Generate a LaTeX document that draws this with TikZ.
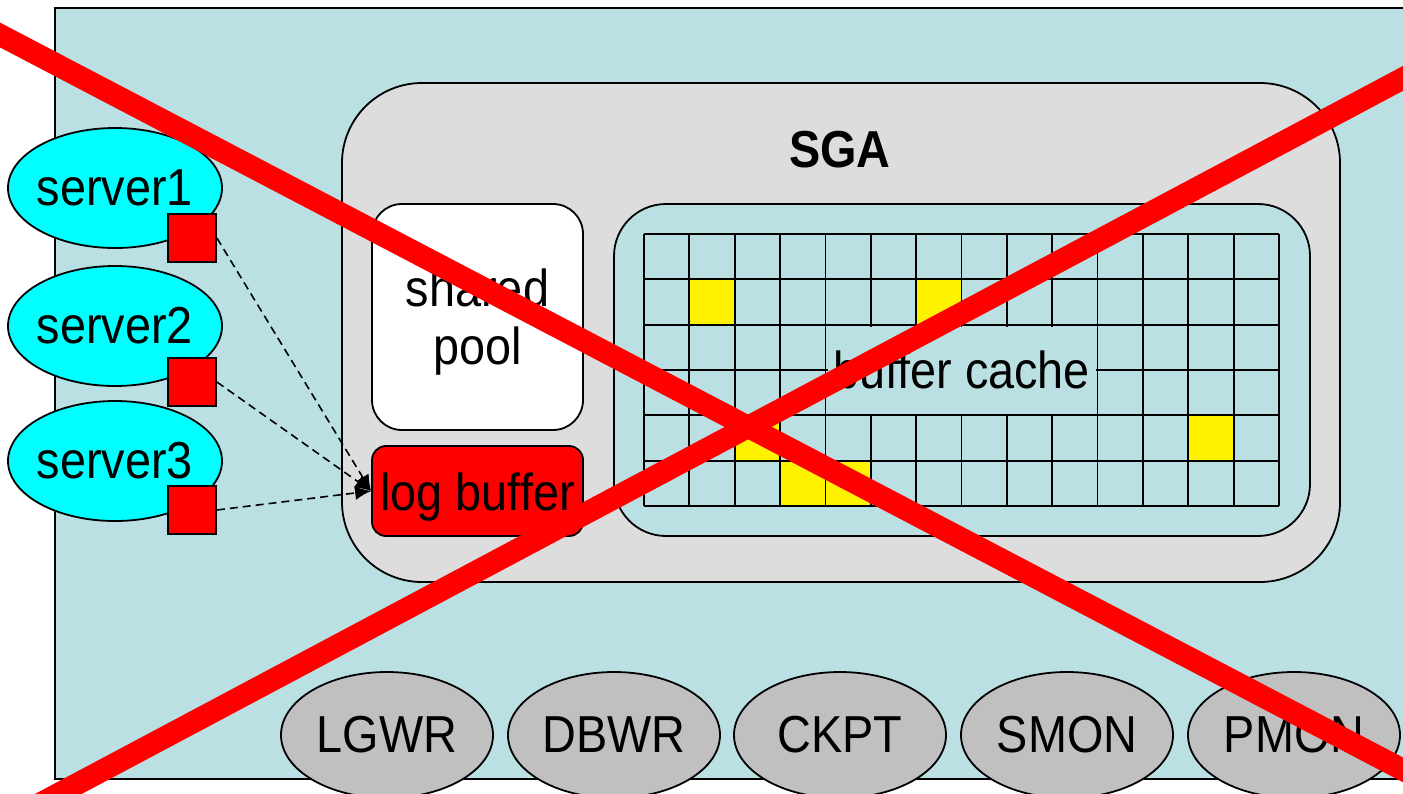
\documentclass[tikz,border=0pt]{standalone}
\usepackage{fontspec}
\setmainfont{Liberation Sans}[FakeStretch=0.9]
\usetikzlibrary{shapes.geometric,arrows.meta}
\definecolor{bgblue}{RGB}{186,224,227}
\definecolor{sgagray}{RGB}{221,221,221}
\definecolor{procgray}{RGB}{192,192,192}
\definecolor{srvcyan}{RGB}{0,255,255}
\begin{document}
\begin{tikzpicture}[x=1pt,y=-1pt, line width=1.8pt,
  every node/.style={inner sep=0pt, font=\fontsize{52}{58}\selectfont},
  lowtext/.style={text height=40pt, text depth=2pt},
  outerbox/.style={draw, fill=bgblue},
  sgabox/.style={draw, fill=sgagray, rounded corners=80pt},
  poolbox/.style={draw, fill=white, rounded corners=30pt},
  logbox/.style={draw, fill=red, rounded corners=14pt, lowtext},
  cachebox/.style={draw, fill=bgblue, rounded corners=52pt},
  server/.style={ellipse, draw, fill=srvcyan, inner xsep=-15pt, minimum width=214pt, minimum height=120pt},
  sqr/.style={draw, fill=red, minimum size=48pt},
  proc/.style={ellipse, draw, fill=procgray, inner xsep=-10pt, minimum width=212pt, minimum height=126pt},
  dasharrow/.style={dash pattern=on 8pt off 5pt, line width=1.6pt, -{Latex[length=16pt,width=14pt]}},
  cross/.style={red, line width=22pt},
]
\useasboundingbox (0,0) rectangle (1403,793);
\clip (0,0) rectangle (1403,793);
% outer instance
\node[outerbox, minimum width=1400pt, minimum height=771pt, anchor=north west] (outer) at (54,7) {};
% SGA
\node[sgabox, minimum width=998pt, minimum height=499pt] (sga) at (841,332.5) {};
\node[font=\bfseries\fontsize{52}{58}\selectfont] (sgalabel) at (840,150) {SGA};
\node[poolbox, minimum width=211pt, minimum height=226pt] (pool) at (477.5,317) {};
\node[align=center] (pooltext) at (477.5,322) {shared\\pool};
\node[logbox, minimum width=211pt, minimum height=90pt] (lb) at (477.5,491) {log buffer};
\node[cachebox, minimum width=696pt, minimum height=332pt] (cache) at (962,370) {};
% buffer cache grid
\foreach \r/\c in {1/1,1/6,4/2,4/12,5/3,5/4}
  \fill[yellow] ({644+\c*45.357},{234+\r*45.33}) rectangle ++(45.357,45.33);
\foreach \k in {0,...,14}
  \draw ({644+\k*45.357},234) -- ++(0,272);
\foreach \j in {0,...,6}
  \draw (644,{234+\j*45.33}) -- ++(635,0);
\node[fill=bgblue, minimum width=268pt, minimum height=87pt] (bclabel) at (961.7,370) {buffer cache};
% servers
\node[server] (s1) at (115,188) {server1};
\node[server] (s2) at (115,326) {server2};
\node[server] (s3) at (115,461) {server3};
\node[sqr] (q1) at (192,238) {};
\node[sqr] (q2) at (192,382) {};
\node[sqr] (q3) at (192,510) {};
\draw[dasharrow] (q1.east) -- (lb.west);
\draw[dasharrow] (q2.east) -- (lb.west);
\draw[dasharrow] (q3.east) -- (lb.west);
% background processes
\node[proc] (lgwr) at (387,735) {LGWR};
\node[proc] (dbwr) at (614,735) {DBWR};
\node[proc] (ckpt) at (840,735) {CKPT};
\node[proc] (smon) at (1067,735) {SMON};
\node[proc] (pmon) at (1294,735) {PMON};
% red cross
\coordinate (xa1) at (-20,24.5);
\coordinate (xa2) at (1430,784);
\coordinate (xb1) at (0,825);
\coordinate (xb2) at (1430,64);
\draw[cross] (xa1) -- (xa2);
\draw[cross] (xb1) -- (xb2);
\end{tikzpicture}
\end{document}
